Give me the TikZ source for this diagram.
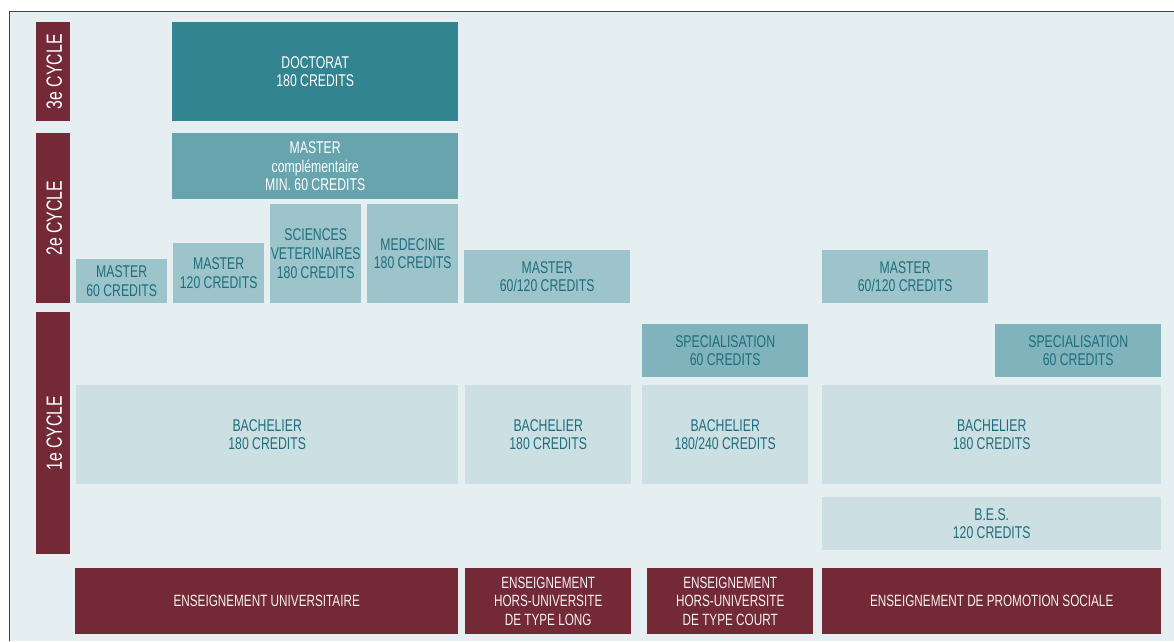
\documentclass[tikz,border=0pt]{standalone}
\usepackage{fontspec}
\setmainfont{Liberation Sans}[FakeStretch=0.72]
\definecolor{bgc}{HTML}{E5EEF0}
\definecolor{docc}{HTML}{328491}
\definecolor{mcc}{HTML}{67A4AE}
\definecolor{mlc}{HTML}{9CC4CA}
\definecolor{spc}{HTML}{81B3BC}
\definecolor{bac}{HTML}{CCDFE3}
\definecolor{mar}{HTML}{732936}
\definecolor{txc}{HTML}{1E6E7D}
\definecolor{frc}{HTML}{444444}
\tikzset{
  blk/.style n args={2}{rectangle, inner sep=0pt, anchor=north west, align=center,
    minimum width=#1pt, minimum height=#2pt, font=\fontsize{17}{18.7}\selectfont},
  dark/.style={fill=docc, text=white},
  mid/.style={fill=mcc, text=white},
  lite/.style={fill=mlc, text=txc},
  spec/.style={fill=spc, text=txc},
  bach/.style={fill=bac, text=txc},
  ens/.style={fill=mar, text=white!94!mar, font=\fontsize{16.3}{18.7}\selectfont},
  cyc/.style={fill=mar},
  cyctext/.style={rotate=90, text=white, font=\fontsize{22}{24}\selectfont},
}
\begin{document}
\begin{tikzpicture}[x=1pt,y=-1pt]
\useasboundingbox (0,0) rectangle (1174,641);
\fill[bgc] (9.5,11.5) rectangle (1174,641);
\draw[frc, line width=1.5pt] (9.5,641) -- (9.5,11.5) -- (1174,11.5);
% cycle bars
\node[blk={34}{99}, cyc] (c3) at (36,22) {};
\node[cyctext] (c3t) at ([xshift=1pt]c3.center) {3e CYCLE};
\node[blk={34}{170}, cyc] (c2) at (36,133) {};
\node[cyctext] (c2t) at ([xshift=1pt]c2.center) {2e CYCLE};
\node[blk={34}{242}, cyc] (c1) at (36,312) {};
\node[cyctext] (c1t) at ([xshift=1pt]c1.center) {1e CYCLE};
% 3e cycle
\node[blk={286}{99}, dark] (doc) at (172,22) {DOCTORAT\\180 CREDITS};
% 2e cycle
\node[blk={286}{66}, mid] (mcomp) at (172,133) {MASTER\\complémentaire\\MIN. 60 CREDITS};
\node[blk={91}{44}, lite] (m60) at (76,259) {MASTER\\60 CREDITS};
\node[blk={91}{60}, lite] (m120) at (173,243) {MASTER\\120 CREDITS};
\node[blk={91}{99}, lite] (svet) at (270,204) {SCIENCES\\VETERINAIRES\\180 CREDITS};
\node[blk={91}{99}, lite] (med) at (367,204) {MEDECINE\\180 CREDITS};
\node[blk={166}{53}, lite] (mhl) at (464,250) {MASTER\\60/120 CREDITS};
\node[blk={166}{53}, lite] (mps) at (822,250) {MASTER\\60/120 CREDITS};
% 1e cycle
\node[blk={166}{53}, spec] (shc) at (642,324) {SPECIALISATION\\60 CREDITS};
\node[blk={166}{53}, spec] (sps) at (995,324) {SPECIALISATION\\60 CREDITS};
\node[blk={382}{99}, bach] (b1) at (76,385) {BACHELIER\\180 CREDITS};
\node[blk={166}{99}, bach] (b2) at (465,385) {BACHELIER\\180 CREDITS};
\node[blk={166}{99}, bach] (b3) at (642,385) {BACHELIER\\180/240 CREDITS};
\node[blk={339}{99}, bach] (b4) at (822,385) {BACHELIER\\180 CREDITS};
\node[blk={339}{53}, bach] (bes) at (822,497) {B.E.S.\\120 CREDITS};
% bottom
\node[blk={383}{66}, ens] (e1) at (75,568) {ENSEIGNEMENT UNIVERSITAIRE};
\node[blk={166}{66}, ens] (e2) at (465,568) {ENSEIGNEMENT\\HORS-UNIVERSITE\\DE TYPE LONG};
\node[blk={166}{66}, ens] (e3) at (647,568) {ENSEIGNEMENT\\HORS-UNIVERSITE\\DE TYPE COURT};
\node[blk={339}{66}, ens] (e4) at (822,568) {ENSEIGNEMENT DE PROMOTION SOCIALE};
\end{tikzpicture}
\end{document}
